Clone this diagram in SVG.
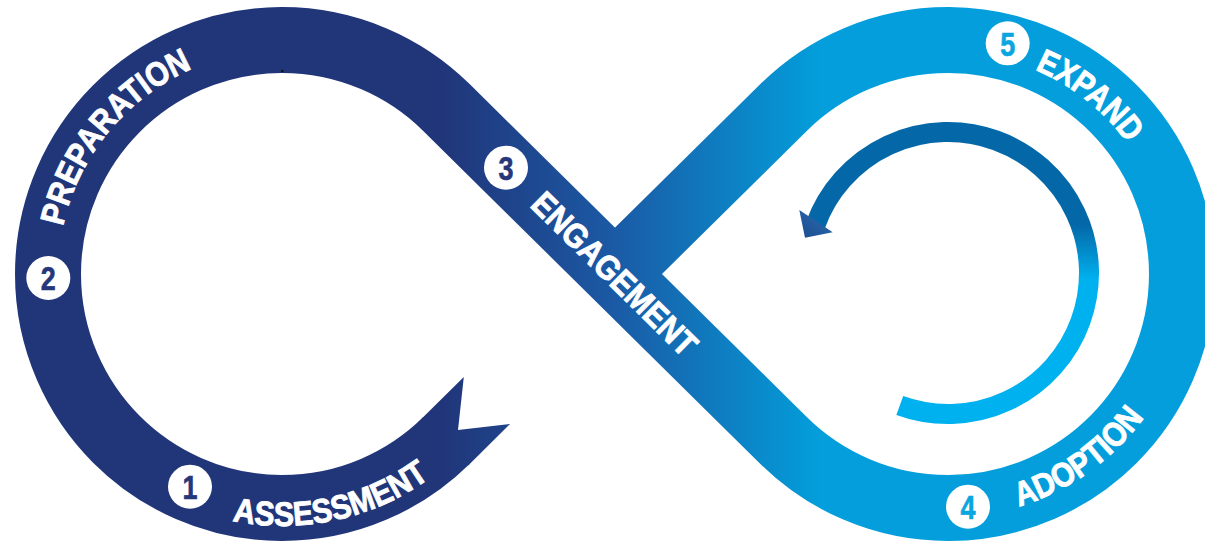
<svg xmlns="http://www.w3.org/2000/svg" width="1205" height="544" viewBox="0 0 1205 544">
  <style>
    .lbl { font-family: "Liberation Sans", Arial, sans-serif; font-weight: 700; font-size: 34px; fill: #ffffff; stroke: #ffffff; stroke-width: 0.9px; }
    .num { font-family: "Liberation Sans", Arial, sans-serif; font-weight: 700; font-size: 34px; text-anchor: middle; stroke-width: 0.6px; }
    .dark { fill: #25367a; stroke: #25367a; }
    .light { fill: #0aa6e0; stroke: #0aa6e0; }
    .badge { fill: #ffffff; }
  </style>
  <defs>
    <linearGradient id="bandGrad" gradientUnits="userSpaceOnUse" x1="440" y1="0" x2="820" y2="0">
      <stop offset="0" stop-color="#213579"/>
      <stop offset="0.45" stop-color="#1b59a4"/>
      <stop offset="1" stop-color="#039edb"/>
    </linearGradient>
    <linearGradient id="arrowGrad" gradientUnits="userSpaceOnUse" x1="0" y1="225" x2="0" y2="280">
      <stop offset="0" stop-color="#0468a8"/>
      <stop offset="1" stop-color="#00b1ef"/>
    </linearGradient>
    <linearGradient id="headGrad" gradientUnits="userSpaceOnUse" x1="805" y1="238" x2="825" y2="212">
      <stop offset="0" stop-color="#1d4f93"/>
      <stop offset="1" stop-color="#2a6aab"/>
    </linearGradient>
    <path id="pAssess" d="M232.3,520.9 A252,252 0 0 0 475.0,436.0"/>
    <path id="pPrep" d="M62.9,226.5 A224,224 0 0 1 243.1,53.4"/>
    <path id="pExpand" d="M1034.7,69.6 A222,222 0 0 1 1156.6,198.1"/>
    <path id="pAdopt" d="M1019.1,506.4 A243,243 0 0 0 1176.3,357.1"/>
  </defs>

  <g id="connectors">
    <path id="infinity-band" d="M446.43,440.49 A234,234 0 1 1 446.43,107.51 L783.57,440.49 A234,234 0 1 0 783.57,107.51 L615,274" fill="none" stroke="url(#bandGrad)" stroke-width="66"/>
    <polygon id="ribbon-tail" points="421.8,418.4 463.8,376.9 458,430 510.2,423.9 468.2,465.4" fill="url(#bandGrad)"/>
    <path id="cycle-arrow" d="M899.78,405.50 A141,141 0 1 0 815.5,224.8" fill="none" stroke="url(#arrowGrad)" stroke-width="20"/>
    <polygon id="cycle-arrowhead" points="805,237.7 799.3,210 832.7,232.3" fill="url(#headGrad)"/>
    <circle cx="282.3" cy="71" r="1.3" fill="#111111"/>
  </g>

  <g id="step1">
    <circle class="badge" cx="190" cy="486.7" r="22"/>
    <text class="num dark" x="190" y="498.9" textLength="15" lengthAdjust="spacingAndGlyphs">1</text>
    <text class="lbl"><textPath href="#pAssess" textLength="208" lengthAdjust="spacingAndGlyphs">ASSESSMENT</textPath></text>
  </g>

  <g id="step2">
    <circle class="badge" cx="48.3" cy="278" r="22"/>
    <text class="num dark" x="48.3" y="290.2" textLength="15" lengthAdjust="spacingAndGlyphs">2</text>
    <text class="lbl"><textPath href="#pPrep" textLength="212" lengthAdjust="spacingAndGlyphs">PREPARATION</textPath></text>
  </g>

  <g id="step3">
    <circle class="badge" cx="506" cy="167.7" r="22"/>
    <text class="num dark" x="506" y="179.9" textLength="15" lengthAdjust="spacingAndGlyphs">3</text>
    <text class="lbl" x="529.1" y="206.0" transform="rotate(44.65 529.1 206.0)" textLength="217" lengthAdjust="spacingAndGlyphs">ENGAGEMENT</text>
  </g>

  <g id="step4">
    <circle class="badge" cx="968" cy="506.7" r="22"/>
    <text class="num light" x="968" y="518.9" textLength="15" lengthAdjust="spacingAndGlyphs">4</text>
    <text class="lbl"><textPath href="#pAdopt" textLength="156" lengthAdjust="spacingAndGlyphs">ADOPTION</textPath></text>
  </g>

  <g id="step5">
    <circle class="badge" cx="1007.7" cy="43.3" r="22"/>
    <text class="num light" x="1007.7" y="55.5" textLength="15" lengthAdjust="spacingAndGlyphs">5</text>
    <text class="lbl"><textPath href="#pExpand" textLength="120" lengthAdjust="spacingAndGlyphs">EXPAND</textPath></text>
  </g>
</svg>
